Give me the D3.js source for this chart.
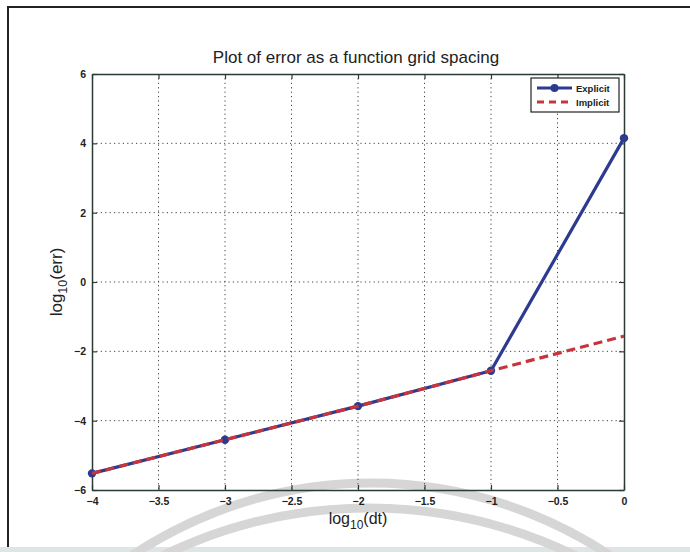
<!DOCTYPE html>
<html>
<head>
<meta charset="utf-8">
<script src="https://cdn.jsdelivr.net/npm/d3@7"></script>
<style>
  html, body { margin: 0; padding: 0; background: #ffffff; }
  svg { display: block; }
  text { font-family: "Liberation Sans", Arial, sans-serif; fill: #222; }
</style>
</head>
<body>
<svg id="chart" width="690" height="552"></svg>
<script>
// log10 of grid spacing
const logDt = [-4, -3, -2, -1, 0];
// log10 of error for each scheme
const explicitErr = [-5.52, -4.55, -3.58, -2.56, 4.15];
const implicitErr = [-5.52, -4.55, -3.58, -2.56, -1.56];
const seriesNames = ["Explicit", "Implicit"];
const xTicks = [-4, -3.5, -3, -2.5, -2, -1.5, -1, -0.5, 0];
const yTicks = [-6, -4, -2, 0, 2, 4, 6];

const svg = d3.select("#chart");
const W = 690, H = 552;
const m = { left: 92, right: 624, top: 74, bottom: 490 };

// page frame
svg.append("rect").attr("x", 0).attr("y", 0).attr("width", W).attr("height", H).attr("fill", "#fff");
svg.append("rect").attr("x", 0).attr("y", 547).attr("width", W).attr("height", 5).attr("fill", "#dfe5e4");
svg.append("path")
  .attr("d", `M8,${H - 5} L8,7 L${W},7`)
  .attr("fill", "none").attr("stroke", "#222").attr("stroke-width", 2);

const x = d3.scaleLinear().domain([-4, 0]).range([m.left, m.right]);
const y = d3.scaleLinear().domain([-6, 6]).range([m.bottom, m.top]);

// arcs of the printed seal behind the plot
const arcG = svg.append("g").attr("fill", "none").attr("stroke", "#d6d6d6").attr("stroke-width", 9);
arcG.append("circle").attr("cx", 371).attr("cy", 483 + 430).attr("r", 430);
arcG.append("circle").attr("cx", 369).attr("cy", 508 + 470).attr("r", 470);

// grid
const grid = svg.append("g").attr("stroke", "#444").attr("stroke-width", 1).attr("stroke-dasharray", "1.2,3.2");
grid.selectAll("line.gx").data(xTicks.slice(1, -1)).join("line")
  .attr("x1", d => x(d)).attr("x2", d => x(d)).attr("y1", m.top).attr("y2", m.bottom);
grid.selectAll("line.gy").data(yTicks.slice(1, -1)).join("line")
  .attr("y1", d => y(d)).attr("y2", d => y(d)).attr("x1", m.left).attr("x2", m.right);

// axes with inward ticks on all four sides
const tickLen = 5;
const axB = svg.append("g").attr("transform", `translate(0,${m.bottom})`)
  .call(d3.axisBottom(x).tickValues(xTicks).tickSizeInner(-tickLen).tickSizeOuter(0).tickPadding(8).tickFormat(d3.format("")));
const axT = svg.append("g").attr("transform", `translate(0,${m.top})`)
  .call(d3.axisTop(x).tickValues(xTicks).tickSizeInner(-tickLen).tickSizeOuter(0).tickFormat(""));
const axL = svg.append("g").attr("transform", `translate(${m.left},0)`)
  .call(d3.axisLeft(y).tickValues(yTicks).tickSizeInner(-tickLen).tickSizeOuter(0).tickPadding(6).tickFormat(d3.format("")));
const axR = svg.append("g").attr("transform", `translate(${m.right},0)`)
  .call(d3.axisRight(y).tickValues(yTicks).tickSizeInner(-tickLen).tickSizeOuter(0).tickFormat(""));
[axB, axT, axL, axR].forEach(a => {
  a.select(".domain").attr("stroke", "#2a3b36").attr("stroke-width", 1.5);
  a.selectAll(".tick line").attr("stroke", "#2a3b36").attr("stroke-width", 1.2);
  a.selectAll(".tick text").attr("fill", "#333").style("font-size", "10.5px").style("font-weight", "bold")
    .style("font-family", "'Liberation Sans', Arial, sans-serif");
});
axB.selectAll(".tick text").text(d => d3.format("")(d).replace("-", "\u2212"));
axL.selectAll(".tick text").text(d => d3.format("")(d).replace("-", "\u2212"));

// series
const ptsE = logDt.map((d, i) => [d, explicitErr[i]]);
const ptsI = logDt.map((d, i) => [d, implicitErr[i]]);
const line = d3.line().x(d => x(d[0])).y(d => y(d[1]));
const blue = "#2c3a8f", red = "#c8343c";

svg.append("path").datum(ptsE).attr("d", line)
  .attr("fill", "none").attr("stroke", blue).attr("stroke-width", 3.2).attr("stroke-linejoin", "round");
svg.selectAll("circle.mk").data(ptsE).join("circle").attr("class", "mk")
  .attr("cx", d => x(d[0])).attr("cy", d => y(d[1])).attr("r", 4.2).attr("fill", blue);
svg.append("path").datum(ptsI).attr("d", line)
  .attr("fill", "none").attr("stroke", red).attr("stroke-width", 3.2).attr("stroke-dasharray", "9,5");

// title and axis labels
svg.append("text").attr("x", 356).attr("y", 63).attr("text-anchor", "middle")
  .style("font-size", "17px").text("Plot of error as a function grid spacing");

const xl = svg.append("text").attr("x", 358).attr("y", 524).attr("text-anchor", "middle").style("font-size", "16px");
xl.append("tspan").text("log");
xl.append("tspan").attr("dy", 5).style("font-size", "12px").text("10");
xl.append("tspan").attr("dy", -5).text("(dt)");

const yl = svg.append("text").attr("transform", "translate(62,282) rotate(-90)").attr("text-anchor", "middle").style("font-size", "17px");
yl.append("tspan").text("log");
yl.append("tspan").attr("dy", 5).style("font-size", "12.5px").text("10");
yl.append("tspan").attr("dy", -5).text("(err)");

// legend
const lg = svg.append("g");
lg.append("rect").attr("x", 531).attr("y", 78).attr("width", 88).attr("height", 34)
  .attr("fill", "#fff").attr("stroke", "#222").attr("stroke-width", 1.2);
const ly = [88, 102];
lg.append("line").attr("x1", 537).attr("x2", 572).attr("y1", ly[0]).attr("y2", ly[0])
  .attr("stroke", blue).attr("stroke-width", 3.2);
lg.append("circle").attr("cx", 554.5).attr("cy", ly[0]).attr("r", 4).attr("fill", blue);
lg.append("line").attr("x1", 537).attr("x2", 572).attr("y1", ly[1]).attr("y2", ly[1])
  .attr("stroke", red).attr("stroke-width", 3.2).attr("stroke-dasharray", "7,5");
lg.selectAll("text.lt").data(seriesNames).join("text").attr("class", "lt")
  .attr("x", 576).attr("y", (d, i) => ly[i] + 3.5)
  .style("font-size", "9.5px").style("font-weight", "bold").text(d => d);
</script>
</body>
</html>
